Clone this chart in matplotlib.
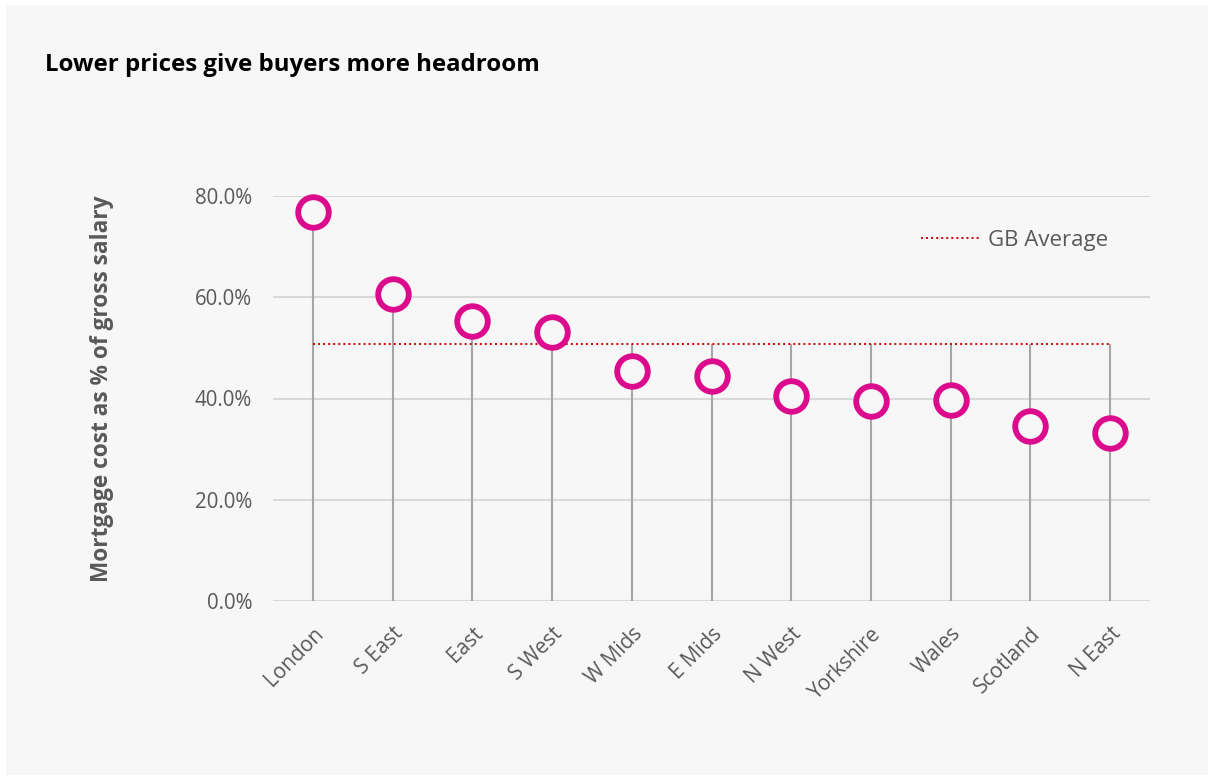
import matplotlib.pyplot as plt
from matplotlib.patches import Rectangle

regions = ['London', 'S East', 'East', 'S West', 'W Mids', 'E Mids',
           'N West', 'Yorkshire', 'Wales', 'Scotland', 'N East']
cost_pct = [76.8, 60.6, 55.3, 53.1, 45.4, 44.4, 40.5, 39.5, 39.7, 34.6, 33.2]
gb_average = [50.8] * len(regions)
y_ticks = [0, 20, 40, 60, 80]

bg = '#f7f7f7'
pink = '#dc0a8c'
txt = '#595959'

plt.rcParams['font.family'] = ['Open Sans', 'DejaVu Sans']

fig = plt.figure(figsize=(12.14, 7.80), dpi=100)
fig.patch.set_facecolor('white')
fig.patches.append(Rectangle((6 / 1214, 5 / 780), 1202 / 1214, 770 / 780,
                             transform=fig.transFigure, facecolor=bg,
                             edgecolor='none', zorder=-10))

ax = fig.add_axes([273 / 1214, 1 - 601 / 780, 877 / 1214, 405 / 780])
ax.set_facecolor('none')
x = list(range(len(regions)))

# drop lines go up to the higher of the two series
tops = [max(v, a) for v, a in zip(cost_pct, gb_average)]
ax.vlines(x, 0, tops, color='#a6a6a6', lw=1.5, zorder=2)

ax.plot(x, gb_average, color='#d00000', lw=1.4, ls=(0, (1, 1.6)),
        label='GB Average', zorder=3)
ax.plot(x, cost_pct, ls='none', marker='o', ms=22, mew=4.2,
        mec=pink, mfc=bg, zorder=4, clip_on=False)

ax.set_xlim(-0.5, len(regions) - 0.5)
ax.set_ylim(0, 80)
ax.set_yticks(y_ticks)
ax.set_yticklabels([f'{t:.1f}%' for t in y_ticks], fontsize=14.8, color=txt)
ax.set_xticks(x)
ax.set_xticklabels(regions, rotation=45, ha='right', rotation_mode='anchor',
                   fontsize=15, color=txt)
ax.tick_params(length=0, pad=15)
ax.tick_params(axis='x', pad=16)
ax.grid(axis='y', color='#d9d9d9', lw=1.5, zorder=0)
ax.set_axisbelow(True)
for s in ax.spines.values():
    s.set_visible(False)

ax.legend(loc='upper right', bbox_to_anchor=(0.975, 0.965), frameon=False,
          fontsize=16, labelcolor=txt, handlelength=2.6, handletextpad=0.4)

fig.text(102 / 1214, 1 - 389 / 780, 'Mortgage cost as % of gross salary',
         rotation=90, ha='center', va='center', fontsize=16.3,
         fontweight='bold', color=txt)
fig.text(45 / 1214, 1 - 65 / 780, 'Lower prices give buyers more headroom',
         ha='left', va='center', fontsize=17.3, fontweight='bold', color='black')

fig.savefig('out.png', dpi=100, facecolor=fig.get_facecolor())
